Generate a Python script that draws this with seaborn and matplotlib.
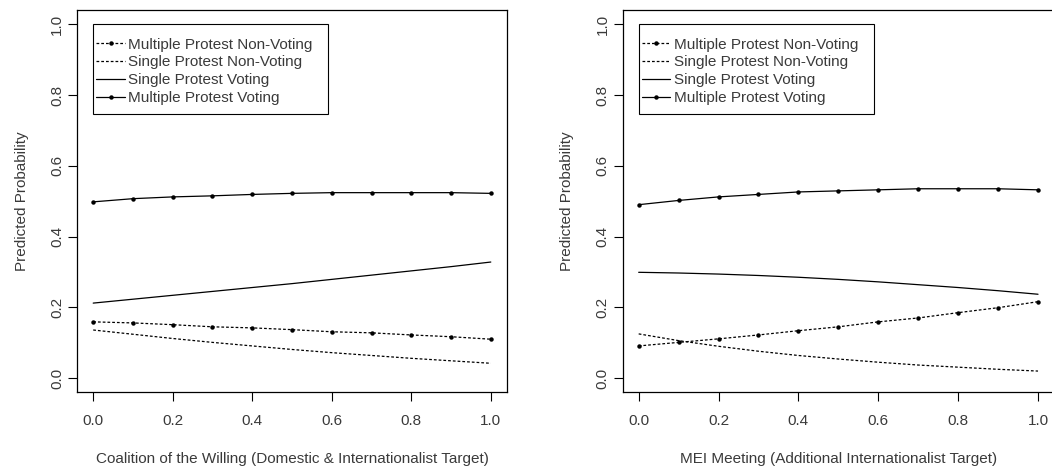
import numpy as np
import pandas as pd
import matplotlib
matplotlib.use("Agg")
import matplotlib.pyplot as plt
from matplotlib.patches import Rectangle
import seaborn as sns

# ---- data ----
x_vals = [0.0, 0.1, 0.2, 0.3, 0.4, 0.5, 0.6, 0.7, 0.8, 0.9, 1.0]

# Left panel: Coalition of the Willing
left_mp_nonvoting = [0.159, 0.156, 0.151, 0.145, 0.142, 0.137, 0.131, 0.128, 0.122, 0.117, 0.110]
left_sp_nonvoting = [0.136, 0.124, 0.112, 0.101, 0.091, 0.081, 0.072, 0.064, 0.056, 0.049, 0.042]
left_sp_voting = [0.212, 0.223, 0.234, 0.245, 0.256, 0.267, 0.279, 0.291, 0.303, 0.315, 0.328]
left_mp_voting = [0.498, 0.507, 0.512, 0.515, 0.519, 0.522, 0.524, 0.524, 0.524, 0.524, 0.522]

# Right panel: MEI Meeting
right_mp_nonvoting = [0.091, 0.101, 0.111, 0.122, 0.134, 0.145, 0.159, 0.170, 0.185, 0.199, 0.216]
right_sp_nonvoting = [0.125, 0.106, 0.090, 0.076, 0.064, 0.054, 0.045, 0.037, 0.031, 0.025, 0.020]
right_sp_voting = [0.299, 0.297, 0.294, 0.290, 0.285, 0.279, 0.272, 0.264, 0.256, 0.247, 0.237]
right_mp_voting = [0.490, 0.502, 0.512, 0.519, 0.526, 0.529, 0.532, 0.535, 0.535, 0.535, 0.532]

series_names = ["Multiple Protest Non-Voting", "Single Protest Non-Voting",
                "Single Protest Voting", "Multiple Protest Voting"]
x_labels = ["Coalition of the Willing (Domestic & Internationalist Target)",
            "MEI Meeting (Additional Internationalist Target)"]
y_label = "Predicted Probability"
tick_vals = [0.0, 0.2, 0.4, 0.6, 0.8, 1.0]

# ---- style ----
sns.set_style("ticks")
plt.rcParams['font.family'] = ['Liberation Sans', 'DejaVu Sans']
TXT = "#3a3a3a"
FS = 11

W, H = 1052, 470
fig = plt.figure(figsize=(W / 100, H / 100), dpi=100)

def px_axes(left, top, right, bottom):
    return fig.add_axes([left / W, 1 - bottom / H, (right - left) / W, (bottom - top) / H])

axes = [px_axes(77.3, 10, 506.7, 392.3), px_axes(622.7, 10, 1054, 392.3)]
legend_box_w = [0.590, 0.590]

styles = [
    dict(linestyle=(0, (2.2, 1.6)), marker="o", markersize=3.2),
    dict(linestyle=(0, (2.2, 1.6)), marker=None),
    dict(linestyle="-", marker=None),
    dict(linestyle="-", marker="o", markersize=3.2),
]

panels = [
    [left_mp_nonvoting, left_sp_nonvoting, left_sp_voting, left_mp_voting],
    [right_mp_nonvoting, right_sp_nonvoting, right_sp_voting, right_mp_voting],
]

for ax, data, xl, bw in zip(axes, panels, x_labels, legend_box_w):
    for name, vals, st in zip(series_names, data, styles):
        df = pd.DataFrame({"x": x_vals, "y": vals})
        sns.lineplot(data=df, x="x", y="y", ax=ax, color="black", linewidth=0.9,
                     label=name, markeredgewidth=0, **st)
    ax.set_xlim(-0.04, 1.04)
    ax.set_ylim(-0.04, 1.04)
    ax.set_xticks(tick_vals)
    ax.set_yticks(tick_vals)
    ax.set_xticklabels([f"{v:.1f}" for v in tick_vals], fontsize=FS, color=TXT)
    ax.set_yticklabels([f"{v:.1f}" for v in tick_vals], fontsize=FS, color=TXT,
                       rotation=90, va="center")
    ax.tick_params(axis="both", direction="out", length=6.5, width=0.8, color="black")
    ax.tick_params(axis="x", pad=9)
    ax.tick_params(axis="y", pad=3)
    for s in ax.spines.values():
        s.set_visible(True)
        s.set_linewidth(0.9)
        s.set_color("black")
    ax.set_xlabel(xl, fontsize=FS, color=TXT, labelpad=17.5)
    ax.set_ylabel(y_label, fontsize=FS, color=TXT, labelpad=15.5)
    leg = ax.legend(loc="upper left", bbox_to_anchor=(0.008, 0.962),
                    bbox_transform=ax.transData, borderaxespad=0,
                    fontsize=FS, frameon=False, handlelength=1.85,
                    handletextpad=0.25, labelspacing=0.25, borderpad=0)
    for t in leg.get_texts():
        t.set_color(TXT)
    ax.add_patch(Rectangle((0.0, 0.747), bw, 1.0 - 0.747, fill=False,
                           edgecolor="black", linewidth=0.8, zorder=4))
    ax.grid(False)

fig.savefig("out.png", dpi=100)
